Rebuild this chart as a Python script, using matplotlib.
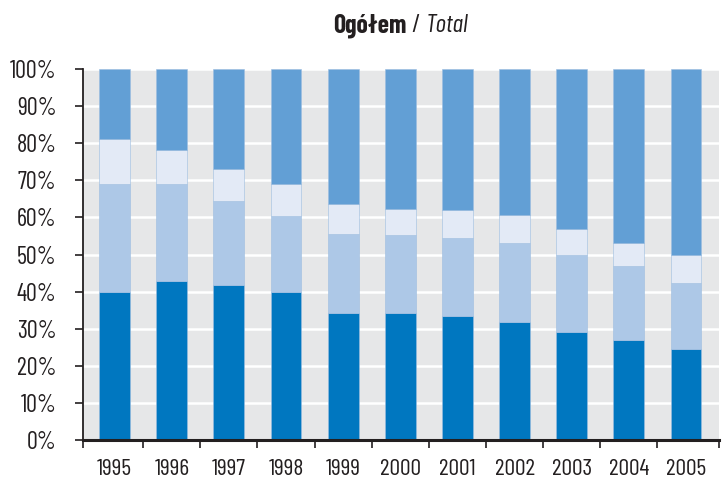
import matplotlib
matplotlib.use("Agg")
import matplotlib.pyplot as plt
from matplotlib import font_manager
import numpy as np

years = ["1995", "1996", "1997", "1998", "1999", "2000",
         "2001", "2002", "2003", "2004", "2005"]
# shares in %, bottom to top
seg1 = [40.0, 42.8, 41.8, 39.8, 34.3, 34.1, 33.4, 31.8, 29.0, 27.0, 24.6]
seg2 = [29.0, 26.2, 22.7, 20.7, 21.2, 21.2, 21.0, 21.2, 20.8, 19.8, 17.8]
seg3 = [12.1, 9.3, 8.5, 8.4, 8.1, 6.9, 7.6, 7.6, 7.0, 6.3, 7.4]
seg4 = [18.9, 21.7, 27.0, 31.1, 36.4, 37.8, 38.0, 39.4, 43.2, 46.9, 50.2]

seg_colors = ["#0077c0", "#adc8e7", "#e3eaf6", "#629fd5"]

names = {f.name for f in font_manager.fontManager.ttflist}
if "Barlow Condensed" in names:
    FONT = dict(family=["Barlow Condensed", "DejaVu Sans"])
else:
    FONT = dict(family="DejaVu Sans", stretch="condensed")

fig = plt.figure(figsize=(7.22, 4.83), dpi=100)
ax = fig.add_axes([83 / 722, 43 / 483, 636 / 722, 371 / 483])
ax.set_facecolor("#e6e7e8")

x = np.arange(len(years))
bottom = np.zeros(len(years))
for vals, c in zip([seg1, seg2, seg3, seg4], seg_colors):
    ax.bar(x, vals, width=0.54, bottom=bottom, color=c,
           edgecolor="#9dbde0", linewidth=0.4, zorder=3)
    bottom += np.array(vals)

x0, x1 = -0.553, len(years) - 0.423
ax.set_xlim(x0, x1)
ax.set_ylim(0, 100)

ax.set_yticks(np.arange(0, 101, 10))
ax.set_yticklabels([f"{v}%" for v in range(0, 101, 10)], fontsize=17.5, color="#231f20", **FONT)
ax.yaxis.grid(True, color="white", linewidth=1.8, zorder=1)
ax.set_axisbelow(True)

ax.set_xticks(x)
ax.set_xticklabels(years, fontsize=17, color="#231f20", **FONT)
ax.set_xticks([x0] + list(np.arange(0.5, len(years) - 1)) + [x1], minor=True)
ax.tick_params(axis="x", which="major", length=0, pad=14)
ax.tick_params(axis="x", which="minor", length=6, width=1.2, color="#231f20", direction="out")
ax.tick_params(axis="y", length=6, width=1.2, color="#231f20", pad=13)

for side in ["top", "right"]:
    ax.spines[side].set_visible(False)
ax.spines["left"].set_color("#231f20")
ax.spines["left"].set_linewidth(1.3)
ax.spines["bottom"].set_color("#231f20")
ax.spines["bottom"].set_linewidth(2.2)
ax.spines["bottom"].set_zorder(4)

# title: bold part + italic part, centred over the axes
parts = [("Ogółem", dict(weight="bold")), (" / ", {}), ("Total", dict(style="italic"))]
texts = [fig.text(0, 1 - 26 / 483, s, fontsize=18.5, va="center", color="#231f20", **FONT, **kw)
         for s, kw in parts]
fig.canvas.draw()
r = fig.canvas.get_renderer()
widths = [t.get_window_extent(r).width for t in texts]
xpos = 401 - sum(widths) / 2
for t, w in zip(texts, widths):
    t.set_x(xpos / 722)
    xpos += w

fig.savefig("out.png", dpi=100)
